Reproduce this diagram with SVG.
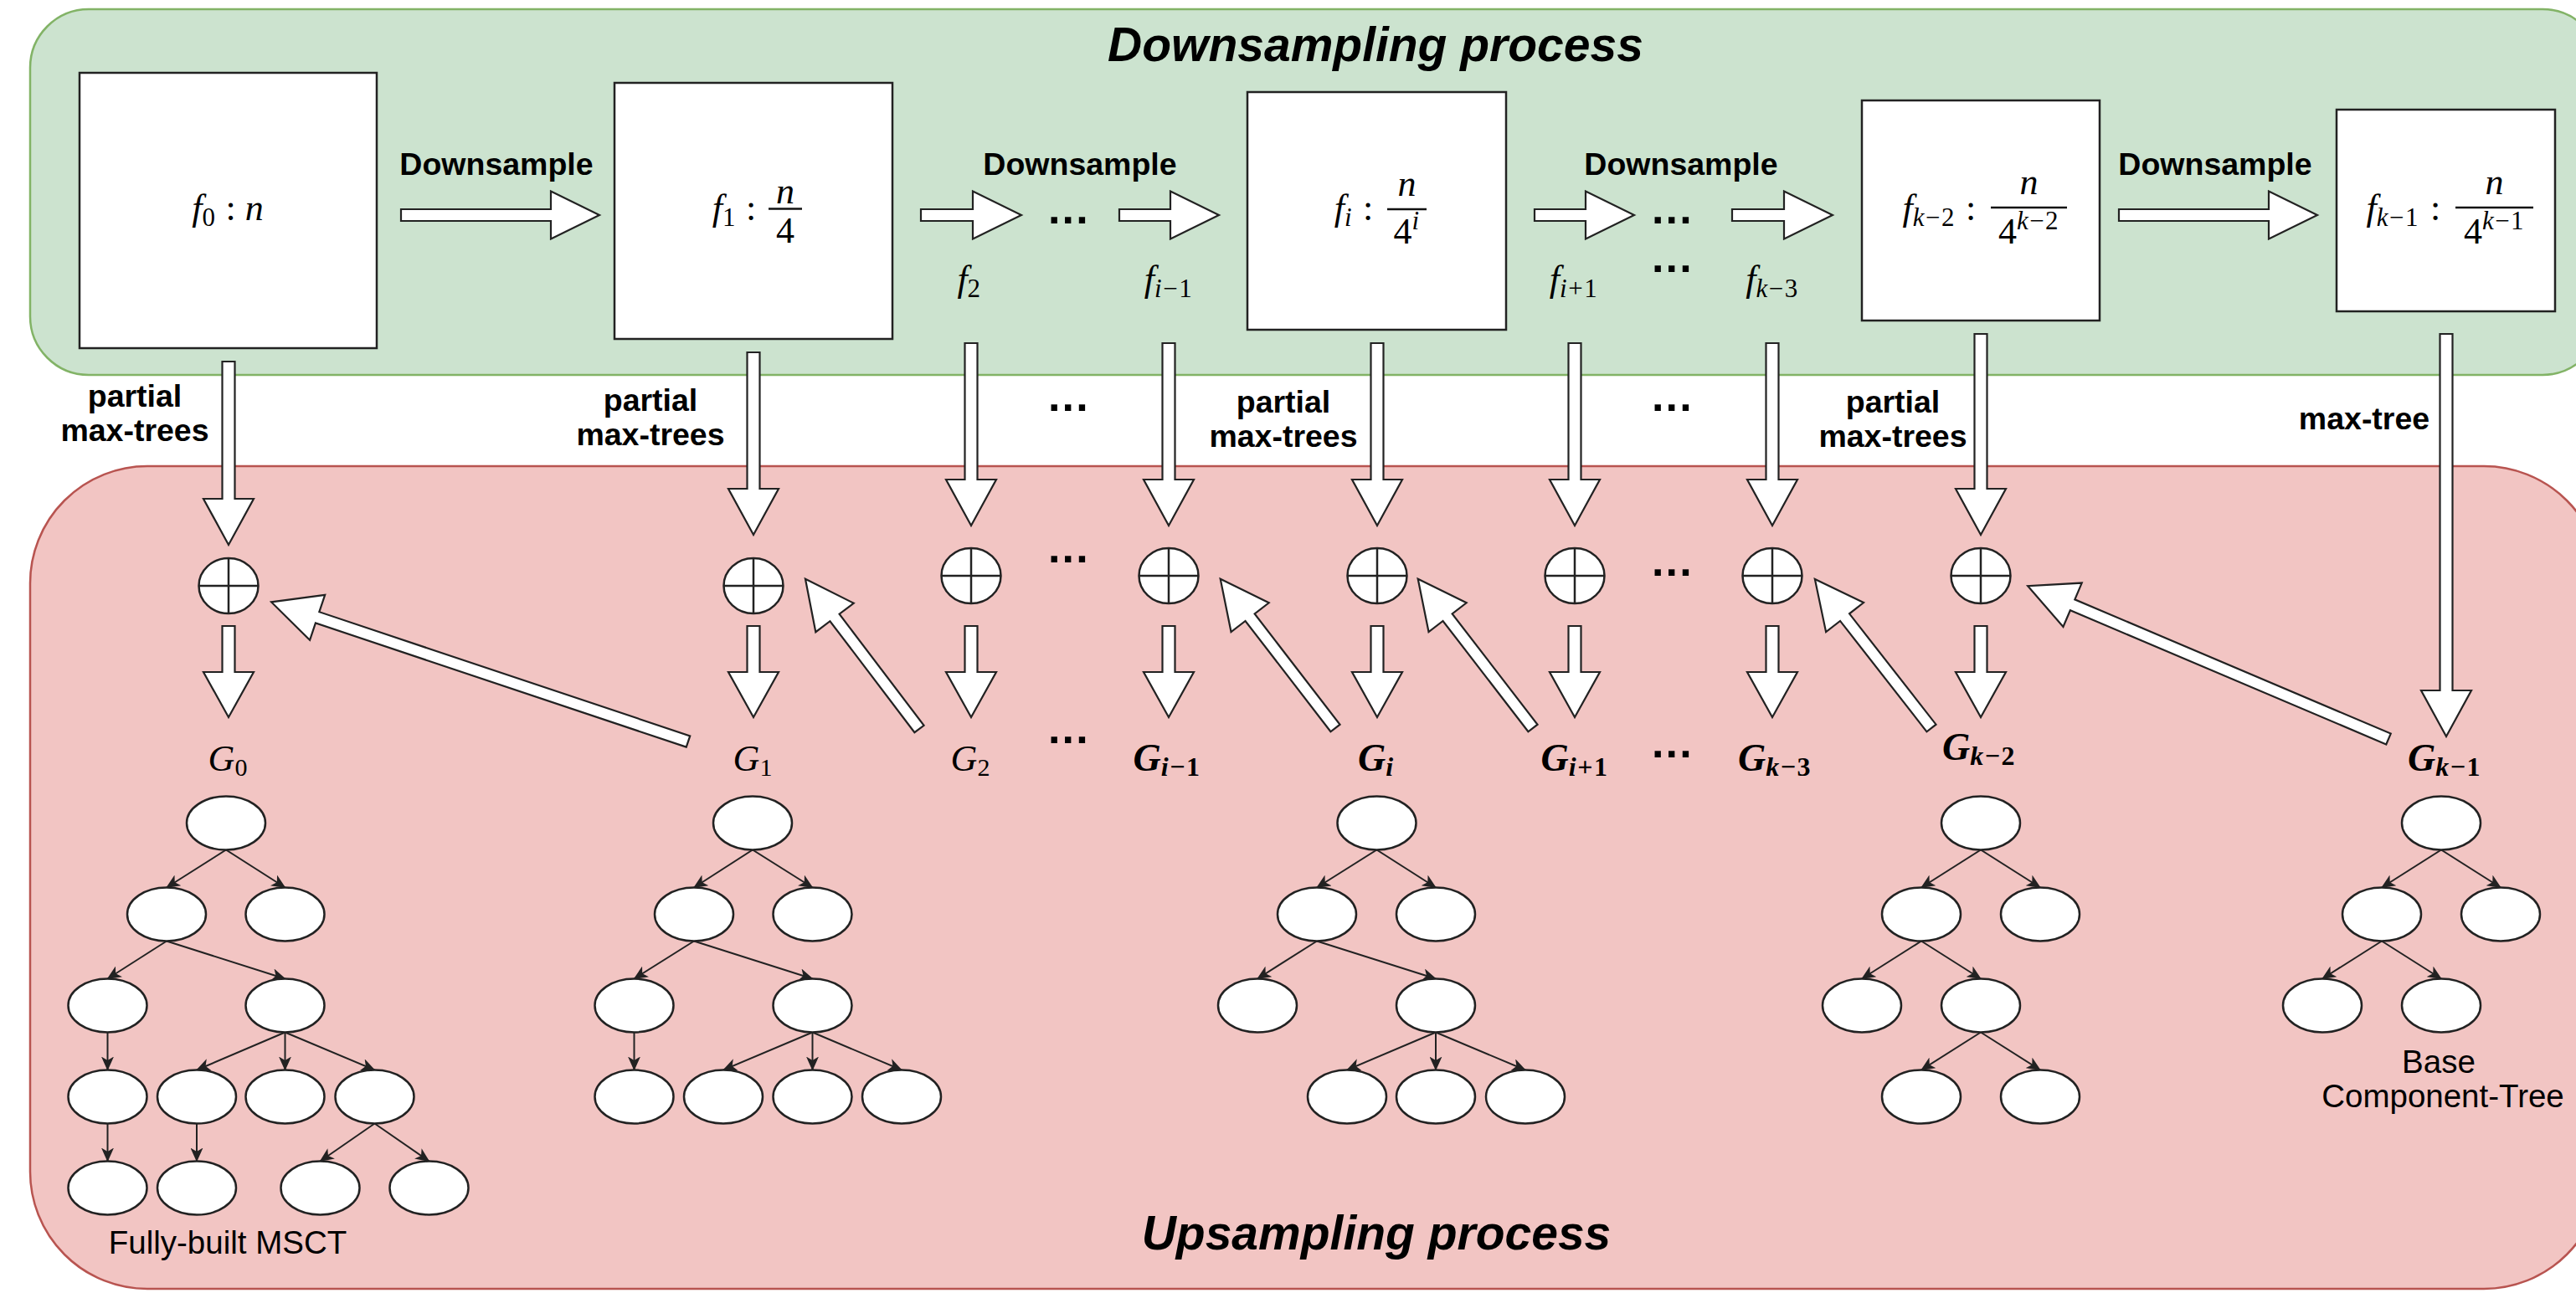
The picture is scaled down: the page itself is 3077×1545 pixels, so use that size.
<svg xmlns="http://www.w3.org/2000/svg" xmlns:xlink="http://www.w3.org/1999/xlink" width="3077" height="1545" viewBox="0 0 3077 1545">
<defs>
<style>
.panelG{fill:#cce3cf;stroke:#82b366;stroke-width:2.5}
.panelR{fill:#f2c5c3;stroke:#b85450;stroke-width:2.5}
.box{fill:#fff;stroke:#222;stroke-width:2.5}
.blk{fill:#fff;stroke:#222;stroke-width:2.2;stroke-linejoin:miter}
.nd{fill:#fff;stroke:#222;stroke-width:2.5}
.ed{stroke:#222;stroke-width:2;fill:none;marker-end:url(#ah)}
.bar{stroke:#111;stroke-width:2.5}
.ttl{font-family:"Liberation Sans",Arial,sans-serif;font-weight:bold;font-style:italic;font-size:57px;fill:#000;text-anchor:middle}
.lbl{font-family:"Liberation Sans",Arial,sans-serif;font-weight:bold;font-size:37.5px;fill:#000;text-anchor:middle}
.dots{font-family:"Liberation Sans",Arial,sans-serif;font-weight:bold;font-size:52px;letter-spacing:2.3px;fill:#000;text-anchor:middle}
.cap{font-family:"Liberation Sans",Arial,sans-serif;font-size:38.5px;fill:#000;text-anchor:middle}
.m{font-family:"Liberation Serif","Times New Roman",serif;font-size:44px;fill:#000}
.mi{font-style:italic}
.sb{font-size:31px;letter-spacing:1.5px}
.g{font-family:"Liberation Serif","Times New Roman",serif;font-size:44px;font-style:italic;fill:#000;text-anchor:middle}
.gb{font-weight:bold;font-size:46px}
.plus{fill:#fff;stroke:#222;stroke-width:2.5}
</style>
<marker id="ah" markerWidth="17" markerHeight="15" refX="16" refY="7.5" orient="auto" markerUnits="userSpaceOnUse"><path d="M0,0 L17,7.5 L0,15 L4.5,7.5 Z" fill="#222"/></marker>
<g id="oplus"><ellipse cx="0" cy="0" rx="35.5" ry="33" class="plus"/><line x1="-35.5" y1="0" x2="35.5" y2="0" stroke="#222" stroke-width="2.5"/><line x1="0" y1="-33" x2="0" y2="33" stroke="#222" stroke-width="2.5"/></g>
</defs>

<g id="downsampling-panel">
<rect class="panelG" x="36" y="11" width="3071" height="437" rx="70" ry="70"/>
<text class="ttl" x="1643" y="73">Downsampling process</text>
</g>
<g id="upsampling-panel">
<rect class="panelR" x="36" y="557" width="3071" height="983" rx="140" ry="140"/>
<text class="ttl" x="1644" y="1493">Upsampling process</text>
</g>

<g id="connectors">
<polygon class="blk" points="479,250 658,250 658,228.5 716,257 658,285.5 658,264 479,264"/>
<polygon class="blk" points="1100,250 1162,250 1162,228.5 1220,257 1162,285.5 1162,264 1100,264"/>
<polygon class="blk" points="1337,250 1398,250 1398,228.5 1456,257 1398,285.5 1398,264 1337,264"/>
<polygon class="blk" points="1833,250 1894,250 1894,228.5 1952,257 1894,285.5 1894,264 1833,264"/>
<polygon class="blk" points="2069,250 2131,250 2131,228.5 2189,257 2131,285.5 2131,264 2069,264"/>
<polygon class="blk" points="2531,250 2710,250 2710,228.5 2768,257 2710,285.5 2710,264 2531,264"/>
<polygon class="blk" points="265.5,432 280.5,432 280.5,596 303,596 273,651 243,596 265.5,596"/>
<polygon class="blk" points="892.5,421 907.5,421 907.5,584 930,584 900,639 870,584 892.5,584"/>
<polygon class="blk" points="1152.5,410 1167.5,410 1167.5,573 1190,573 1160,628 1130,573 1152.5,573"/>
<polygon class="blk" points="1388.5,410 1403.5,410 1403.5,573 1426,573 1396,628 1366,573 1388.5,573"/>
<polygon class="blk" points="1637.5,410 1652.5,410 1652.5,573 1675,573 1645,628 1615,573 1637.5,573"/>
<polygon class="blk" points="1873.5,410 1888.5,410 1888.5,573 1911,573 1881,628 1851,573 1873.5,573"/>
<polygon class="blk" points="2109.5,410 2124.5,410 2124.5,573 2147,573 2117,628 2087,573 2109.5,573"/>
<polygon class="blk" points="2358.5,399 2373.5,399 2373.5,584 2396,584 2366,639 2336,584 2358.5,584"/>
<polygon class="blk" points="2914.5,399 2929.5,399 2929.5,825 2952,825 2922,880 2892,825 2914.5,825"/>
<polygon class="blk" points="265.5,748 280.5,748 280.5,803 303,803 273,857 243,803 265.5,803"/>
<polygon class="blk" points="892.5,748 907.5,748 907.5,803 930,803 900,857 870,803 892.5,803"/>
<polygon class="blk" points="1152.5,748 1167.5,748 1167.5,803 1190,803 1160,857 1130,803 1152.5,803"/>
<polygon class="blk" points="1388.5,748 1403.5,748 1403.5,803 1426,803 1396,857 1366,803 1388.5,803"/>
<polygon class="blk" points="1637.5,748 1652.5,748 1652.5,803 1675,803 1645,857 1615,803 1637.5,803"/>
<polygon class="blk" points="1873.5,748 1888.5,748 1888.5,803 1911,803 1881,857 1851,803 1873.5,803"/>
<polygon class="blk" points="2109.5,748 2124.5,748 2124.5,803 2147,803 2117,857 2087,803 2109.5,803"/>
<polygon class="blk" points="2358.5,748 2373.5,748 2373.5,803 2396,803 2366,857 2336,803 2358.5,803"/>
<g transform="translate(822,886) rotate(198.5)"><polygon class="blk" points="0,-7 467,-7 467,-28.5 525,0 467,28.5 467,7 0,7"/></g>
<g transform="translate(1098,871) rotate(232.8)"><polygon class="blk" points="0,-7 167,-7 167,-28.5 225,0 167,28.5 167,7 0,7"/></g>
<g transform="translate(1595,870) rotate(232.4)"><polygon class="blk" points="0,-7 167,-7 167,-28.5 225,0 167,28.5 167,7 0,7"/></g>
<g transform="translate(1831,870) rotate(232.4)"><polygon class="blk" points="0,-7 167,-7 167,-28.5 225,0 167,28.5 167,7 0,7"/></g>
<g transform="translate(2307,870) rotate(232.0)"><polygon class="blk" points="0,-7 168,-7 168,-28.5 226,0 168,28.5 168,7 0,7"/></g>
<g transform="translate(2853,883) rotate(203.0)"><polygon class="blk" points="0,-7 410,-7 410,-28.5 468,0 410,28.5 410,7 0,7"/></g>
<path class="ed" d="M270,1015.5 L199,1060.5"/>
<path class="ed" d="M270,1015.5 L340.5,1060.5"/>
<path class="ed" d="M199,1124.5 L128.5,1169.5"/>
<path class="ed" d="M199,1124.5 L340.5,1169.5"/>
<path class="ed" d="M128.5,1233.5 L128.5,1278.5"/>
<path class="ed" d="M340.5,1233.5 L235,1278.5"/>
<path class="ed" d="M340.5,1233.5 L340.5,1278.5"/>
<path class="ed" d="M340.5,1233.5 L447.5,1278.5"/>
<path class="ed" d="M128.5,1342.5 L128.5,1387.5"/>
<path class="ed" d="M235,1342.5 L235,1387.5"/>
<path class="ed" d="M447.5,1342.5 L382.5,1387.5"/>
<path class="ed" d="M447.5,1342.5 L512.5,1387.5"/>
<path class="ed" d="M899,1015.5 L829,1060.5"/>
<path class="ed" d="M899,1015.5 L970.5,1060.5"/>
<path class="ed" d="M829,1124.5 L757.5,1169.5"/>
<path class="ed" d="M829,1124.5 L970.5,1169.5"/>
<path class="ed" d="M757.5,1233.5 L757.5,1278.5"/>
<path class="ed" d="M970.5,1233.5 L864,1278.5"/>
<path class="ed" d="M970.5,1233.5 L970.5,1278.5"/>
<path class="ed" d="M970.5,1233.5 L1077,1278.5"/>
<path class="ed" d="M1644.5,1015.5 L1573,1060.5"/>
<path class="ed" d="M1644.5,1015.5 L1715,1060.5"/>
<path class="ed" d="M1573,1124.5 L1502,1169.5"/>
<path class="ed" d="M1573,1124.5 L1715,1169.5"/>
<path class="ed" d="M1715,1233.5 L1609,1278.5"/>
<path class="ed" d="M1715,1233.5 L1715,1278.5"/>
<path class="ed" d="M1715,1233.5 L1822,1278.5"/>
<path class="ed" d="M2366,1015.5 L2295,1060.5"/>
<path class="ed" d="M2366,1015.5 L2437,1060.5"/>
<path class="ed" d="M2295,1124.5 L2224,1169.5"/>
<path class="ed" d="M2295,1124.5 L2366,1169.5"/>
<path class="ed" d="M2366,1233.5 L2295,1278.5"/>
<path class="ed" d="M2366,1233.5 L2437,1278.5"/>
<path class="ed" d="M2916,1015.5 L2845,1060.5"/>
<path class="ed" d="M2916,1015.5 L2987,1060.5"/>
<path class="ed" d="M2845,1124.5 L2774,1169.5"/>
<path class="ed" d="M2845,1124.5 L2916,1169.5"/>
</g>

<g id="f0">
<rect class="box" x="95" y="87" width="355" height="329"/>
<text class="m" x="272" y="263" text-anchor="middle"><tspan class="mi">f</tspan><tspan class="sb" dy="7">0</tspan><tspan dy="-7"> : </tspan><tspan class="mi">n</tspan></text>
</g>
<g id="f1">
<rect class="box" x="734" y="99" width="332" height="306"/>
<text class="m" x="880" y="263" text-anchor="end"><tspan class="mi">f</tspan><tspan class="sb" dy="7">1</tspan></text>
<text class="m" x="897" y="263" text-anchor="middle">:</text>
<text class="m mi" x="938" y="243" text-anchor="middle">n</text>
<line class="bar" x1="918" y1="249.5" x2="958" y2="249.5"/>
<text class="m" x="938" y="290" text-anchor="middle">4</text>
</g>
<g id="fi">
<rect class="box" x="1490" y="110" width="309" height="284"/>
<text class="m" x="1616" y="263" text-anchor="end"><tspan class="mi">f</tspan><tspan class="mi sb" dy="7">i</tspan></text>
<text class="m" x="1634" y="263" text-anchor="middle">:</text>
<text class="m mi" x="1680.5" y="234" text-anchor="middle">n</text>
<line class="bar" x1="1657" y1="250" x2="1704" y2="250"/>
<text class="m" x="1680.5" y="291" text-anchor="middle">4<tspan class="mi sb" dy="-17">i</tspan></text>
</g>
<g id="fk2">
<rect class="box" x="2224" y="120" width="284" height="263"/>
<text class="m" x="2336" y="263" text-anchor="end"><tspan class="mi">f</tspan><tspan class="sb" dy="7"><tspan class="mi">k</tspan>−2</tspan></text>
<text class="m" x="2354" y="263" text-anchor="middle">:</text>
<text class="m mi" x="2423.5" y="232" text-anchor="middle">n</text>
<line class="bar" x1="2378" y1="248" x2="2469" y2="248"/>
<text class="m" x="2423.5" y="291" text-anchor="middle">4<tspan class="sb" dy="-17"><tspan class="mi">k</tspan>−2</tspan></text>
</g>
<g id="fk1">
<rect class="box" x="2791" y="131" width="261" height="241"/>
<text class="m" x="2890" y="263" text-anchor="end"><tspan class="mi">f</tspan><tspan class="sb" dy="7"><tspan class="mi">k</tspan>−1</tspan></text>
<text class="m" x="2909" y="263" text-anchor="middle">:</text>
<text class="m mi" x="2979.5" y="232" text-anchor="middle">n</text>
<line class="bar" x1="2933" y1="248" x2="3026" y2="248"/>
<text class="m" x="2979.5" y="291" text-anchor="middle">4<tspan class="sb" dy="-17"><tspan class="mi">k</tspan>−1</tspan></text>
</g>

<g id="top-labels">
<text class="lbl" x="593" y="209">Downsample</text>
<text class="lbl" x="1290" y="209">Downsample</text>
<text class="lbl" x="2008" y="209">Downsample</text>
<text class="lbl" x="2646" y="209">Downsample</text>
<text class="m" x="1158" y="348" text-anchor="middle"><tspan class="mi">f</tspan><tspan class="sb" dy="7">2</tspan></text>
<text class="m" x="1396" y="348" text-anchor="middle"><tspan class="mi">f</tspan><tspan class="sb" dy="7"><tspan class="mi">i</tspan>−1</tspan></text>
<text class="m" x="1880" y="348" text-anchor="middle"><tspan class="mi">f</tspan><tspan class="sb" dy="7"><tspan class="mi">i</tspan>+1</tspan></text>
<text class="m" x="2117" y="348" text-anchor="middle"><tspan class="mi">f</tspan><tspan class="sb" dy="7"><tspan class="mi">k</tspan>−3</tspan></text>
<text class="dots" x="1277" y="267">...</text>
<text class="dots" x="1998" y="267">...</text>
<text class="dots" x="1998" y="325">...</text>
<text class="lbl" x="161" y="486">partial</text>
<text class="lbl" x="161" y="527">max-trees</text>
<text class="lbl" x="777" y="491">partial</text>
<text class="lbl" x="777" y="532">max-trees</text>
<text class="lbl" x="1533" y="493">partial</text>
<text class="lbl" x="1533" y="534">max-trees</text>
<text class="lbl" x="2261" y="493">partial</text>
<text class="lbl" x="2261" y="534">max-trees</text>
<text class="lbl" x="2824" y="513">max-tree</text>
<text class="dots" x="1277" y="491">...</text>
<text class="dots" x="1998" y="491">...</text>
</g>

<g id="merge-nodes">
<use xlink:href="#oplus" x="273" y="700"/>
<use xlink:href="#oplus" x="900" y="700"/>
<use xlink:href="#oplus" x="1160" y="688"/>
<use xlink:href="#oplus" x="1396" y="688"/>
<use xlink:href="#oplus" x="1645" y="688"/>
<use xlink:href="#oplus" x="1881" y="688"/>
<use xlink:href="#oplus" x="2117" y="688"/>
<use xlink:href="#oplus" x="2366" y="688"/>
<text class="dots" x="1277" y="672">...</text>
<text class="dots" x="1998" y="688">...</text>
</g>

<g id="g-labels">
<text class="g" x="272" y="921">G<tspan font-size="30" font-style="normal" dy="6">0</tspan></text>
<text class="g" x="899" y="921">G<tspan font-size="30" font-style="normal" dy="6">1</tspan></text>
<text class="g" x="1159" y="921">G<tspan font-size="30" font-style="normal" dy="6">2</tspan></text>
<text class="g gb" x="1394" y="921">G<tspan font-size="32" letter-spacing="1.5" dy="6">i<tspan font-style="normal">−1</tspan></tspan></text>
<text class="g gb" x="1643" y="921">G<tspan font-size="32" dy="6">i</tspan></text>
<text class="g gb" x="1881" y="921">G<tspan font-size="32" letter-spacing="1.5" dy="6">i<tspan font-style="normal">+1</tspan></tspan></text>
<text class="g gb" x="2120" y="921">G<tspan font-size="32" letter-spacing="1.5" dy="6">k<tspan font-style="normal">−3</tspan></tspan></text>
<text class="g gb" x="2364" y="908">G<tspan font-size="32" letter-spacing="1.5" dy="6">k<tspan font-style="normal">−2</tspan></tspan></text>
<text class="g gb" x="2920" y="921">G<tspan font-size="32" letter-spacing="1.5" dy="6">k<tspan font-style="normal">−1</tspan></tspan></text>
<text class="dots" x="1277" y="888">...</text>
<text class="dots" x="1998" y="905">...</text>
</g>

<g id="tree-G0">
<ellipse class="nd" cx="270" cy="983.5" rx="47" ry="32"/>
<ellipse class="nd" cx="199" cy="1092.5" rx="47" ry="32"/>
<ellipse class="nd" cx="340.5" cy="1092.5" rx="47" ry="32"/>
<ellipse class="nd" cx="128.5" cy="1201.5" rx="47" ry="32"/>
<ellipse class="nd" cx="340.5" cy="1201.5" rx="47" ry="32"/>
<ellipse class="nd" cx="128.5" cy="1310.5" rx="47" ry="32"/>
<ellipse class="nd" cx="235" cy="1310.5" rx="47" ry="32"/>
<ellipse class="nd" cx="340.5" cy="1310.5" rx="47" ry="32"/>
<ellipse class="nd" cx="447.5" cy="1310.5" rx="47" ry="32"/>
<ellipse class="nd" cx="128.5" cy="1419.5" rx="47" ry="32"/>
<ellipse class="nd" cx="235" cy="1419.5" rx="47" ry="32"/>
<ellipse class="nd" cx="382.5" cy="1419.5" rx="47" ry="32"/>
<ellipse class="nd" cx="512.5" cy="1419.5" rx="47" ry="32"/>
<text class="cap" x="272" y="1498">Fully-built MSCT</text>
</g>
<g id="tree-G1">
<ellipse class="nd" cx="899" cy="983.5" rx="47" ry="32"/>
<ellipse class="nd" cx="829" cy="1092.5" rx="47" ry="32"/>
<ellipse class="nd" cx="970.5" cy="1092.5" rx="47" ry="32"/>
<ellipse class="nd" cx="757.5" cy="1201.5" rx="47" ry="32"/>
<ellipse class="nd" cx="970.5" cy="1201.5" rx="47" ry="32"/>
<ellipse class="nd" cx="757.5" cy="1310.5" rx="47" ry="32"/>
<ellipse class="nd" cx="864" cy="1310.5" rx="47" ry="32"/>
<ellipse class="nd" cx="970.5" cy="1310.5" rx="47" ry="32"/>
<ellipse class="nd" cx="1077" cy="1310.5" rx="47" ry="32"/>
</g>
<g id="tree-Gi">
<ellipse class="nd" cx="1644.5" cy="983.5" rx="47" ry="32"/>
<ellipse class="nd" cx="1573" cy="1092.5" rx="47" ry="32"/>
<ellipse class="nd" cx="1715" cy="1092.5" rx="47" ry="32"/>
<ellipse class="nd" cx="1502" cy="1201.5" rx="47" ry="32"/>
<ellipse class="nd" cx="1715" cy="1201.5" rx="47" ry="32"/>
<ellipse class="nd" cx="1609" cy="1310.5" rx="47" ry="32"/>
<ellipse class="nd" cx="1715" cy="1310.5" rx="47" ry="32"/>
<ellipse class="nd" cx="1822" cy="1310.5" rx="47" ry="32"/>
</g>
<g id="tree-Gk2">
<ellipse class="nd" cx="2366" cy="983.5" rx="47" ry="32"/>
<ellipse class="nd" cx="2295" cy="1092.5" rx="47" ry="32"/>
<ellipse class="nd" cx="2437" cy="1092.5" rx="47" ry="32"/>
<ellipse class="nd" cx="2224" cy="1201.5" rx="47" ry="32"/>
<ellipse class="nd" cx="2366" cy="1201.5" rx="47" ry="32"/>
<ellipse class="nd" cx="2295" cy="1310.5" rx="47" ry="32"/>
<ellipse class="nd" cx="2437" cy="1310.5" rx="47" ry="32"/>
</g>
<g id="tree-Gk1">
<ellipse class="nd" cx="2916" cy="983.5" rx="47" ry="32"/>
<ellipse class="nd" cx="2845" cy="1092.5" rx="47" ry="32"/>
<ellipse class="nd" cx="2987" cy="1092.5" rx="47" ry="32"/>
<ellipse class="nd" cx="2774" cy="1201.5" rx="47" ry="32"/>
<ellipse class="nd" cx="2916" cy="1201.5" rx="47" ry="32"/>
<text class="cap" x="2913" y="1282">Base</text>
<text class="cap" x="2918" y="1323">Component-Tree</text>
</g>
</svg>
